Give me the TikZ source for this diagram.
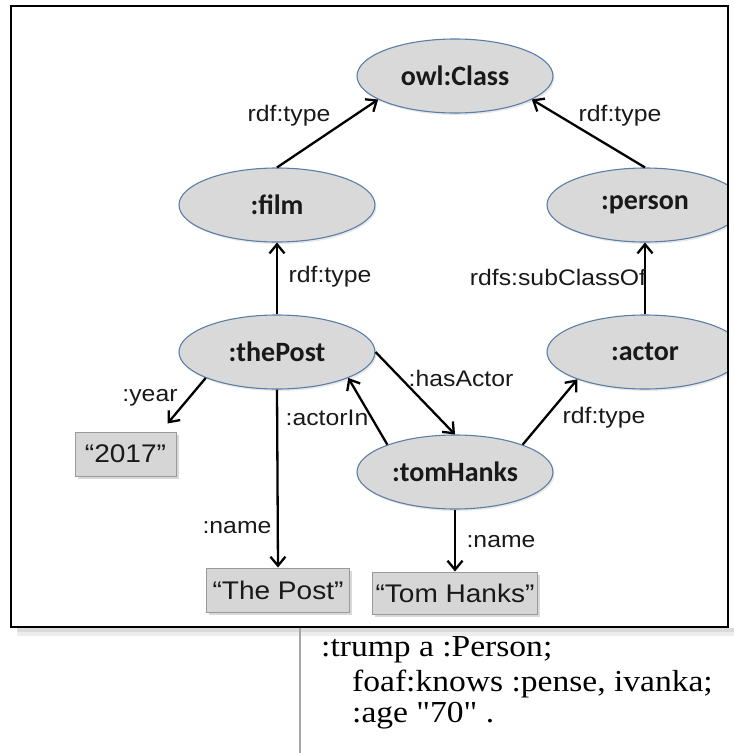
\documentclass[tikz,border=0pt]{standalone}
\usepackage{fontspec}
\setmainfont{Liberation Sans}
\newfontfamily\nodefont{Carlito}
\newfontfamily\seriffont{Liberation Serif}
\usetikzlibrary{shapes.geometric,arrows.meta,shadows,calc}
\definecolor{ellfill}{HTML}{D9D9D9}
\definecolor{ellborder}{HTML}{5B7EA6}
\definecolor{boxfill}{HTML}{D6D6D6}
\definecolor{boxborder}{HTML}{9A9A9A}
\newcommand{\sx}[1]{\scalebox{1.1}[1]{#1}}
\begin{document}
\begin{tikzpicture}[x=1pt,y=-1pt,
  cls/.style={ellipse, draw=ellborder, fill=ellfill, line width=1.1pt,
    minimum width=196pt, minimum height=74pt, inner sep=0pt,
    font=\nodefont\bfseries\fontsize{28}{32}\selectfont, text=black!90,
    drop shadow={shadow xshift=1.5pt, shadow yshift=-2pt, opacity=0.18}},
  lit/.style={rectangle, draw=boxborder, fill=boxfill, line width=1pt, inner sep=0pt,
    font=\fontsize{25.5}{29}\selectfont, text=black!90,
    drop shadow={shadow xshift=2.5pt, shadow yshift=-2.5pt, opacity=0.3}},
  lbl/.style={font=\fontsize{22.5}{25}\selectfont, inner sep=0pt, text=black!90},
  ttl/.style={font=\seriffont\fontsize{30.5}{34}\selectfont, inner sep=0pt, anchor=west},
  arr/.style={line width=2.3pt, -{Straight Barb[length=9pt,width=15pt,line width=2.3pt]}}]
\useasboundingbox (0,0) rectangle (734,753);

% frame shadow and table lines
\fill[black!14] (17,628) rectangle (734,632);
\fill[black!7] (17,632) rectangle (734,636);
\draw[black!35, line width=1.2pt] (300,628) -- (300,753);

\begin{scope}
\clip (11,6) rectangle (728,627);
\node[cls] (owl) at (455,76) {owl:Class};
\node[cls] (film) at (277,205) {:film};
\node[cls] (person) at (645,205) {:person};
\node[cls] (post) at (277,352) {:thePost};
\node[cls] (actor) at (645,352) {:actor};
\node[cls] (tom) at (455,472) {:tomHanks};

\node[lit, minimum width=101pt, minimum height=44pt] (yr) at (125.5,454) {\sx{“2017”}};
\node[lit, minimum width=143pt, minimum height=44pt] (tp) at (278,590) {\sx{“The Post”}};
\node[lit, minimum width=165pt, minimum height=42pt] (th) at (455,593) {\sx{“Tom Hanks”}};

\draw[arr] (film.north) -- (owl.197);
\draw[arr] (person.north) -- (owl.343);
\draw[arr] (post.north) -- (film.south);
\draw[arr] (actor.north) -- (person.south);
\draw[arr] (post.200) -- ($(yr.north east)+(-9,-8)$);
\draw[arr] (post.east) -- (tom.north);
\draw[arr] (tom.158) -- (post.340);
\draw[arr] (tom.22) -- (actor.202);
\draw[arr] (post.south) -- (tp.north);
\draw[arr] (tom.south) -- (th.north);

\node[lbl] (l1) at (289,116) {\sx{rdf:type}};
\node[lbl] (l2) at (620,116) {\sx{rdf:type}};
\node[lbl] (l3) at (330,277) {\sx{rdf:type}};
\node[lbl] (l4) at (558,277) {\sx{rdfs:subClassOf}};
\node[lbl] (l5) at (150,398) {\sx{:year}};
\node[lbl] (l6) at (461,378) {\sx{:hasActor}};
\node[lbl] (l7) at (327,418) {\sx{:actorIn}};
\node[lbl] (l8) at (604,418) {\sx{rdf:type}};
\node[lbl] (l9) at (237,528) {\sx{:name}};
\node[lbl] (l10) at (501,542) {\sx{:name}};
\end{scope}

\draw[line width=1.8pt] (11,6) rectangle (728,627);

\node[ttl] (t1) at (321,650) {\sx{:trump a :Person;}};
\node[ttl] (t2) at (352,684) {\sx{foaf:knows :pense, ivanka;}};
\node[ttl] (t3) at (352,716) {\sx{:age "70" .}};
\end{tikzpicture}
\end{document}
